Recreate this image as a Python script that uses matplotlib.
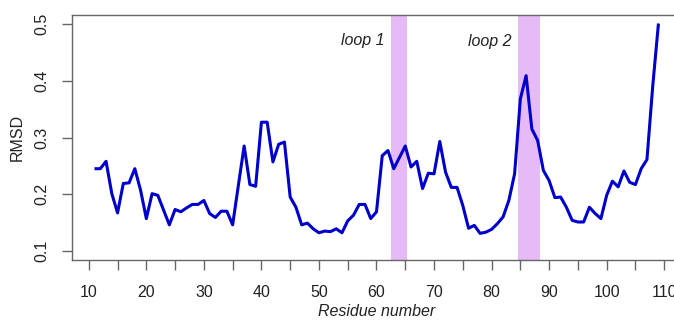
import numpy as np
import matplotlib
matplotlib.use("Agg")
import matplotlib.pyplot as plt

plt.rcParams['font.family'] = ['Liberation Sans', 'DejaVu Sans']

# Per-residue RMSD profile
residue = np.arange(11, 110)
rmsd = [
    0.245, 0.245, 0.258, 0.201, 0.167, 0.219, 0.220, 0.245, 0.207, 0.157,
    0.201, 0.198, 0.172, 0.146, 0.173, 0.169, 0.176, 0.182, 0.182, 0.189,
    0.166, 0.159, 0.170, 0.170, 0.146, 0.216, 0.285, 0.217, 0.214, 0.327,
    0.327, 0.257, 0.288,
    0.292, 0.195, 0.177, 0.146, 0.149, 0.139, 0.132, 0.135, 0.134, 0.139,
    0.132, 0.153, 0.163, 0.182, 0.182, 0.157, 0.169, 0.268, 0.277, 0.245,
    0.265, 0.285, 0.248, 0.258, 0.210, 0.237, 0.236, 0.293, 0.239, 0.212,
    0.212, 0.180, 0.140, 0.145, 0.131, 0.133,
    0.138, 0.148, 0.160, 0.189, 0.236, 0.368, 0.409, 0.315, 0.295, 0.242,
    0.224, 0.194, 0.195, 0.177, 0.154, 0.151, 0.151, 0.177, 0.166, 0.157,
    0.198, 0.223, 0.213, 0.241, 0.221, 0.217, 0.245, 0.261, 0.390, 0.501,
]

# Highlighted loop regions (start, end) and their labels
loop_names = ["loop 1", "loop 2"]
loop_spans = [(62.5, 65.3), (84.6, 88.5)]
loop_label_x = [61.4, 83.5]
loop_label_y = [0.471, 0.469]

xticks = [10, 20, 30, 40, 50, 60, 70, 80, 90, 100, 110]
yticks = [0.1, 0.2, 0.3, 0.4, 0.5]

fig = plt.figure(figsize=(6.74, 3.2), dpi=100)
ax = fig.add_axes([0.1068, 0.1875, 0.9036, 0.7656])

for (a, b) in loop_spans:
    ax.axvspan(a, b, color='#E6B9F7', lw=0, zorder=1)

ax.plot(residue, rmsd, color='#0000CD', lw=2.2, zorder=3,
        solid_joinstyle='round', solid_capstyle='butt')

for name, lx, ly in zip(loop_names, loop_label_x, loop_label_y):
    ax.text(lx, ly, name, ha='right', va='center', fontsize=11.5,
            style='italic', color='#222222')

ax.set_xlim(7.08, 112.92)
ax.set_ylim(0.084, 0.516)
ax.set_xticks(xticks)
ax.set_xticks(np.arange(10, 115, 5), minor=True)
ax.set_yticks(yticks)
ax.set_yticklabels([f"{v:.1f}" for v in yticks], rotation=90, va='center')

for s in ax.spines.values():
    s.set_color('#666666')
    s.set_linewidth(1.0)

ax.tick_params(axis='both', which='both', direction='out', length=7,
               width=1.0, color='#666666', labelsize=11.5,
               labelcolor='#222222')
ax.tick_params(axis='x', which='major', pad=11)
ax.tick_params(axis='y', which='major', pad=9)
ax.tick_params(axis='x', which='minor', labelbottom=False)

ax.set_xlabel("Residue number", fontsize=11.5, style='italic',
              color='#222222', labelpad=3)
ax.set_ylabel("RMSD", fontsize=11.5, color='#222222', labelpad=7)

fig.savefig("out.png", dpi=100)
